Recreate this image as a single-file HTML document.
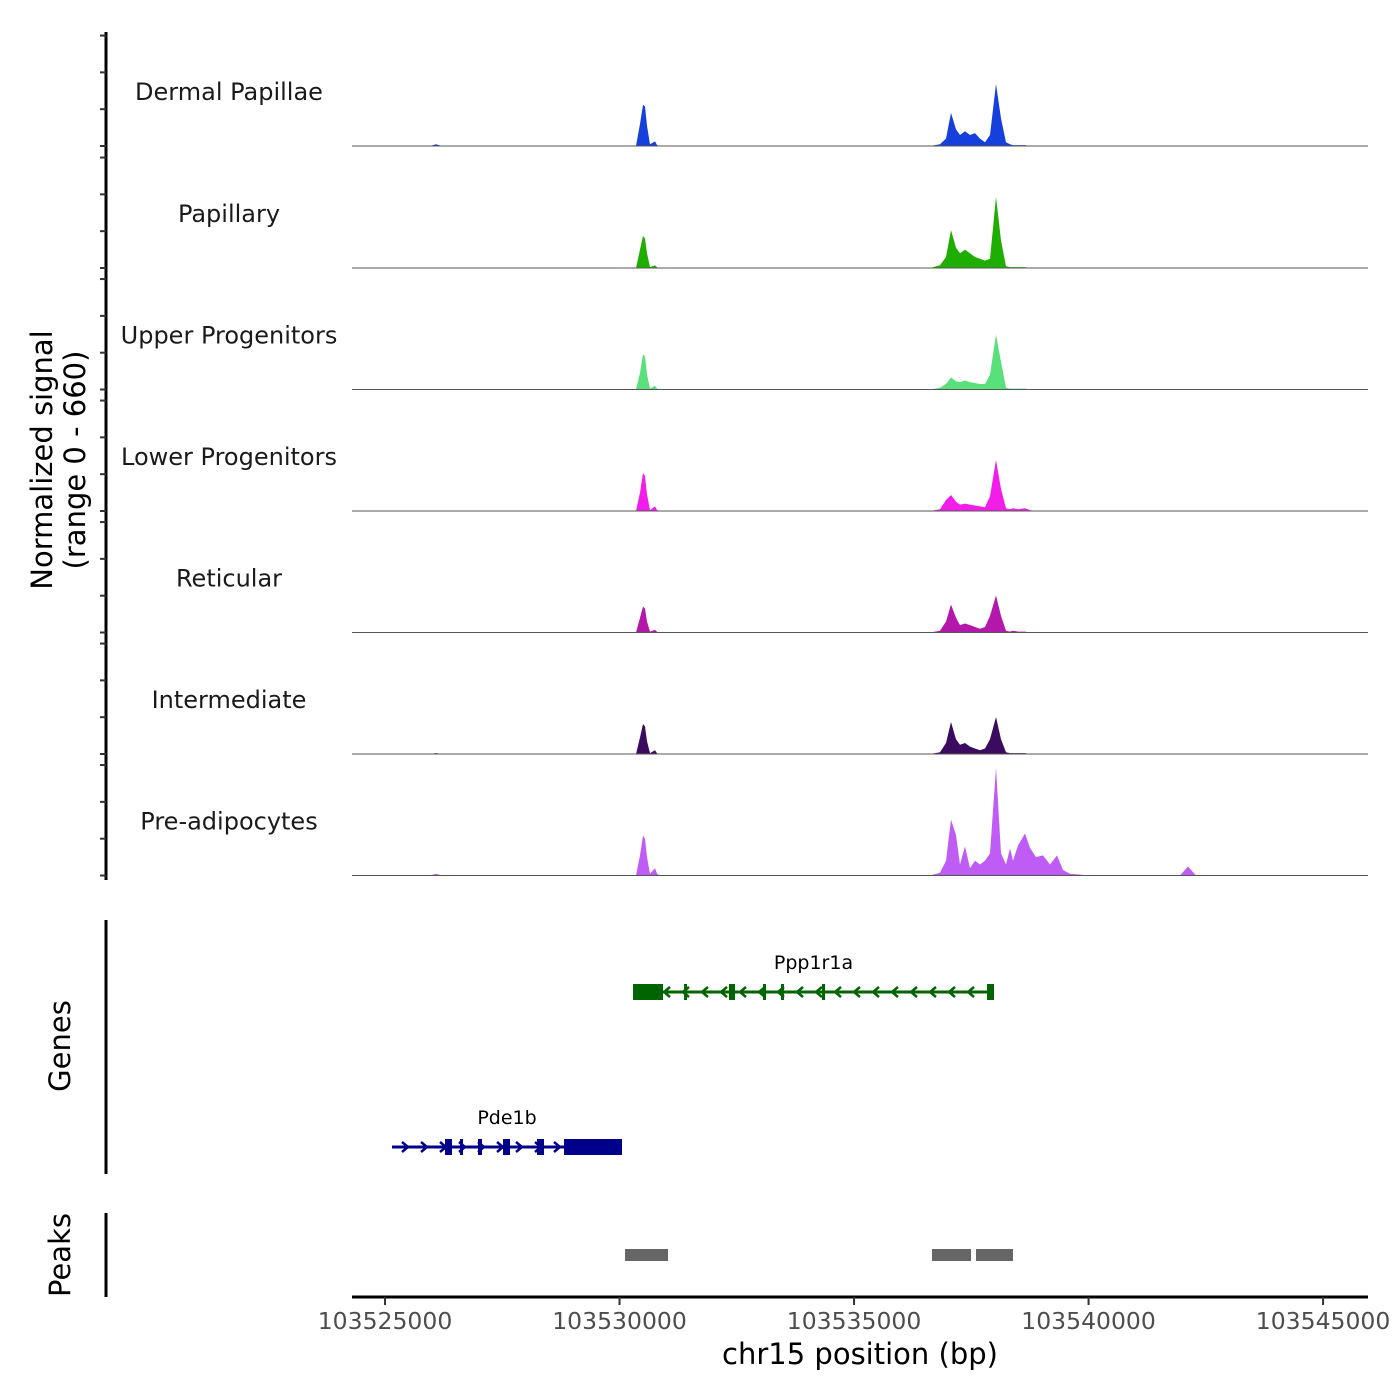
<!DOCTYPE html>
<html><head><meta charset="utf-8"><style>
html,body{margin:0;padding:0;background:#fff;}
svg{display:block;font-family:"DejaVu Sans","Liberation Sans",sans-serif;}
</style></head><body>
<svg id="chart" width="1400" height="1400" viewBox="0 0 1400 1400" xmlns="http://www.w3.org/2000/svg">
<text transform="translate(52,460) rotate(-90)" text-anchor="middle" font-size="29" fill="#000">Normalized signal</text>
<text transform="translate(85,460) rotate(-90)" text-anchor="middle" font-size="29" fill="#000">(range 0 - 660)</text>
<text transform="translate(70,1046) rotate(-90)" text-anchor="middle" font-size="29" fill="#000">Genes</text>
<text transform="translate(70,1255) rotate(-90)" text-anchor="middle" font-size="29" fill="#000">Peaks</text>
<text x="860" y="1364" text-anchor="middle" font-size="29" fill="#000">chr15 position (bp)</text>
<g id="g"></g>
</svg>
<script>
const trackNames = ["Dermal Papillae","Papillary","Upper Progenitors","Lower Progenitors","Reticular","Intermediate","Pre-adipocytes"];
const trackColors = ["#1540dc","#1fae00","#5ae07b","#f21de8","#b418aa","#3a0b5f","#c05cf6"];
const positions = [103524296,103525959,103526087,103526215,103530351,103530437,103530501,103530543,103530586,103530650,103530757,103530800,103530863,103536619,103536833,103536960,103537067,103537174,103537259,103537366,103537472,103537579,103537686,103537792,103537899,103538027,103538133,103538240,103538325,103538389,103538496,103538645,103538752,103538880,103539029,103539178,103539327,103539455,103539604,103540031,103541949,103542120,103542291,103545958];
const dermalVals = [0,0,10,0,0,120,223,215,110,10,25,5,0,0,10,40,180,90,60,80,60,70,40,20,60,337,150,20,10,5,5,5,0,0,0,0,0,0,0,0,0,0,0,0];
const papillaryVals = [0,0,0,0,0,100,174,160,80,5,15,3,0,0,15,60,206,110,80,100,80,60,50,40,50,386,150,10,5,5,5,5,0,0,0,0,0,0,0,0,0,0,0,0];
const upperVals = [0,0,0,0,0,90,190,180,80,5,20,3,0,0,10,30,65,45,40,49,40,35,30,30,80,299,150,10,5,5,5,5,0,0,0,0,0,0,0,0,0,0,0,0];
const lowerVals = [0,0,0,0,0,100,206,190,90,5,25,5,0,0,10,60,87,50,35,40,35,30,25,20,80,277,120,15,10,15,10,15,5,0,0,0,0,0,0,0,0,0,0,0];
const reticularVals = [0,0,0,0,0,80,141,130,60,5,15,3,0,0,10,60,152,80,40,49,40,30,20,30,90,201,90,10,5,10,5,5,0,0,0,0,0,0,0,0,0,0,0,0];
const intermediateVals = [0,0,5,0,0,90,163,150,70,5,20,3,0,0,10,60,174,80,50,60,40,30,20,30,80,201,80,10,5,5,5,5,0,0,0,0,0,0,0,0,0,0,0,0];
const preadipoVals = [0,0,10,0,0,110,217,200,100,10,40,10,0,0,15,80,304,220,60,158,40,80,60,81,120,586,120,60,147,80,163,228,150,100,109,60,109,30,10,0,0,49,0,0];
const signalMax = 660;
const signalTicks = [0,200,400,600];
const xTicks = [103525000,103530000,103535000,103540000,103545000];
const geneNames = ["Ppp1r1a","Pde1b"];
const geneStrands = [-1,1];
const geneStarts = [103530287,103525149];
const geneEnds = [103537984,103530053];
const geneExons = [
  [[103530287,103530927],[103531375,103531439],[103532334,103532462],[103533059,103533123],[103533443,103533507],[103534317,103534381],[103537835,103537984]],
  [[103526279,103526428],[103526599,103526642],[103526983,103527068],[103527516,103527665],[103528241,103528390],[103528816,103530053]]
];
const peakStarts = [103530117,103536662,103537600];
const peakEnds = [103531034,103537494,103538389];

const NS="http://www.w3.org/2000/svg";
const g=document.getElementById('g');
const X0=352,X1=1368,BP0=103524296,BP1=103545958;
const xs=bp=>X0+(bp-BP0)/(BP1-BP0)*(X1-X0);
const baselines=[146,268,389.5,511,632.5,754,875.5];
const TH=121.5;
const ys=(v,b)=>b-v/signalMax*TH;
function mk(t,a){const e=document.createElementNS(NS,t);for(const k in a)e.setAttribute(k,a[k]);g.appendChild(e);return e;}
const allVals=[dermalVals,papillaryVals,upperVals,lowerVals,reticularVals,intermediateVals,preadipoVals];
let ax=mk('line',{x1:106,y1:32,x2:106,y2:880,stroke:'#000','stroke-width':3});


allVals.forEach((vals,i)=>{
  const b=baselines[i];
  signalTicks.forEach(t=>{
    const tk=mk('line',{x1:100,x2:106,y1:ys(t,b),y2:ys(t,b),stroke:'#333','stroke-width':2});
    
    
  });
  let d='M'+xs(positions[0])+','+b;
  positions.forEach((p,j)=>{d+=' L'+xs(p).toFixed(1)+','+ys(vals[j],b).toFixed(1);});
  d+=' L'+xs(positions[positions.length-1])+','+b+' Z';
  const area=mk('path',{d:d,fill:trackColors[i]});
  
  
  const bl=mk('line',{x1:X0,x2:X1,y1:b,y2:b,stroke:'#555','stroke-width':1});
  
  
  const lb=mk('text',{x:229,y:b-46,'text-anchor':'middle','font-size':24,fill:'#1a1a1a'});
  lb.textContent=trackNames[i];
  
  
});
let ga=mk('line',{x1:106,y1:920,x2:106,y2:1174,stroke:'#000','stroke-width':3});


const geneY=[992,1147],geneCol=["#006400","#00008b"];
geneNames.forEach((n,i)=>{
  const y=geneY[i],c=geneCol[i];
  const x1=xs(geneStarts[i]),x2=xs(geneEnds[i]);
  const ln=mk('line',{x1:x1,x2:x2,y1:y,y2:y,stroke:c,'stroke-width':3});
  
  
  for(let x=x1+14;x<x2-8;x+=19){
    const s=geneStrands[i];
    const ar=mk('polyline',{points:`${x-4*s},${y-5} ${x+2*s},${y} ${x-4*s},${y+5}`,fill:'none',stroke:c,'stroke-width':2.5});
    
    
  }
  geneExons[i].forEach(ex=>{
    const a=xs(ex[0]),b=xs(ex[1]);
    const r=mk('rect',{x:a,y:y-8,width:Math.max(b-a,3),height:16,fill:c});
    
    
  });
  const t=mk('text',{x:(x1+x2)/2,y:y-23,'text-anchor':'middle','font-size':19,fill:'#000'});
  t.textContent=n;
  
  
});
let pa=mk('line',{x1:106,y1:1213,x2:106,y2:1297,stroke:'#000','stroke-width':3});


peakStarts.forEach((s,i)=>{
  const r=mk('rect',{x:xs(s),y:1249,width:xs(peakEnds[i])-xs(s),height:12,fill:'#666'});
  
  
});
let xa=mk('line',{x1:X0,y1:1297,x2:X1,y2:1297,stroke:'#000','stroke-width':3});


xTicks.forEach(t=>{
  const x=xs(t);
  const tk=mk('line',{x1:x,x2:x,y1:1297,y2:1305,stroke:'#333','stroke-width':2});
  
  
  const lb=mk('text',{x:x,y:1329,'text-anchor':'middle','font-size':23.5,fill:'#4d4d4d'});
  lb.textContent=t;
  
  
});
</script>
</body></html>
